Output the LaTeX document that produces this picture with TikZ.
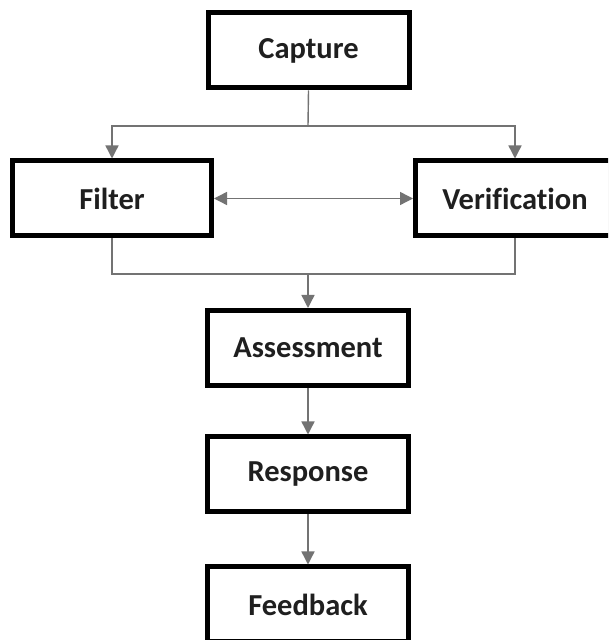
\documentclass[tikz,border=0pt]{standalone}
\usepackage{fontspec}
\setmainfont{Carlito}[Ligatures=CommonOff]
\usetikzlibrary{arrows.meta,shadows}
\tikzset{
  stage/.style={draw=black, line width=5pt, fill=white, minimum width=201pt, minimum height=75pt,
    inner sep=0pt, font=\fontsize{30.5}{35}\selectfont\bfseries, text=black!88,
    drop shadow={shadow xshift=2pt, shadow yshift=-2pt, opacity=0.25, fill=black}},
  link/.style={draw=black!55, line width=1.4pt},
  arr/.style={link, -{Triangle[length=13pt,width=13pt]}},
  arr2/.style={link, {Triangle[length=13pt,width=13pt]}-{Triangle[length=13pt,width=13pt]}}
}
\begin{document}
\begin{tikzpicture}[x=1pt,y=1pt]
\useasboundingbox (0,0) rectangle (608,640);
\clip (0,0) rectangle (608,640);
\fill[white] (0,0) rectangle (608,640);
\node[stage] (cap) at (308.5,589.5) {Capture};
\node[stage, minimum width=199pt] (fil) at (112,441.5) {Filter};
\node[stage, minimum width=199pt] (ver) at (515,441.5) {Verification};
\node[stage] (ass) at (308,292) {Assessment};
\node[stage] (res) at (308,165.5) {Response};
\node[stage] (fee) at (308,35.5) {Feedback};
\coordinate (split) at (308,514);
\coordinate (merge) at (308,366);
% from Capture
\draw[link] (cap.south) -- (split);
\draw[arr] (split) -| (fil.north);
\draw[arr] (split) -| (ver.north);
% Filter <-> Verification
\draw[arr2] (fil.east) -- (ver.west);
% into Assessment
\draw[link] (fil.south) |- (merge);
\draw[link] (ver.south) |- (merge);
\draw[arr] (merge) -- (ass.north);
\draw[arr] (ass.south) -- (res.north);
\draw[arr] (res.south) -- (fee.north);
\end{tikzpicture}
\end{document}
